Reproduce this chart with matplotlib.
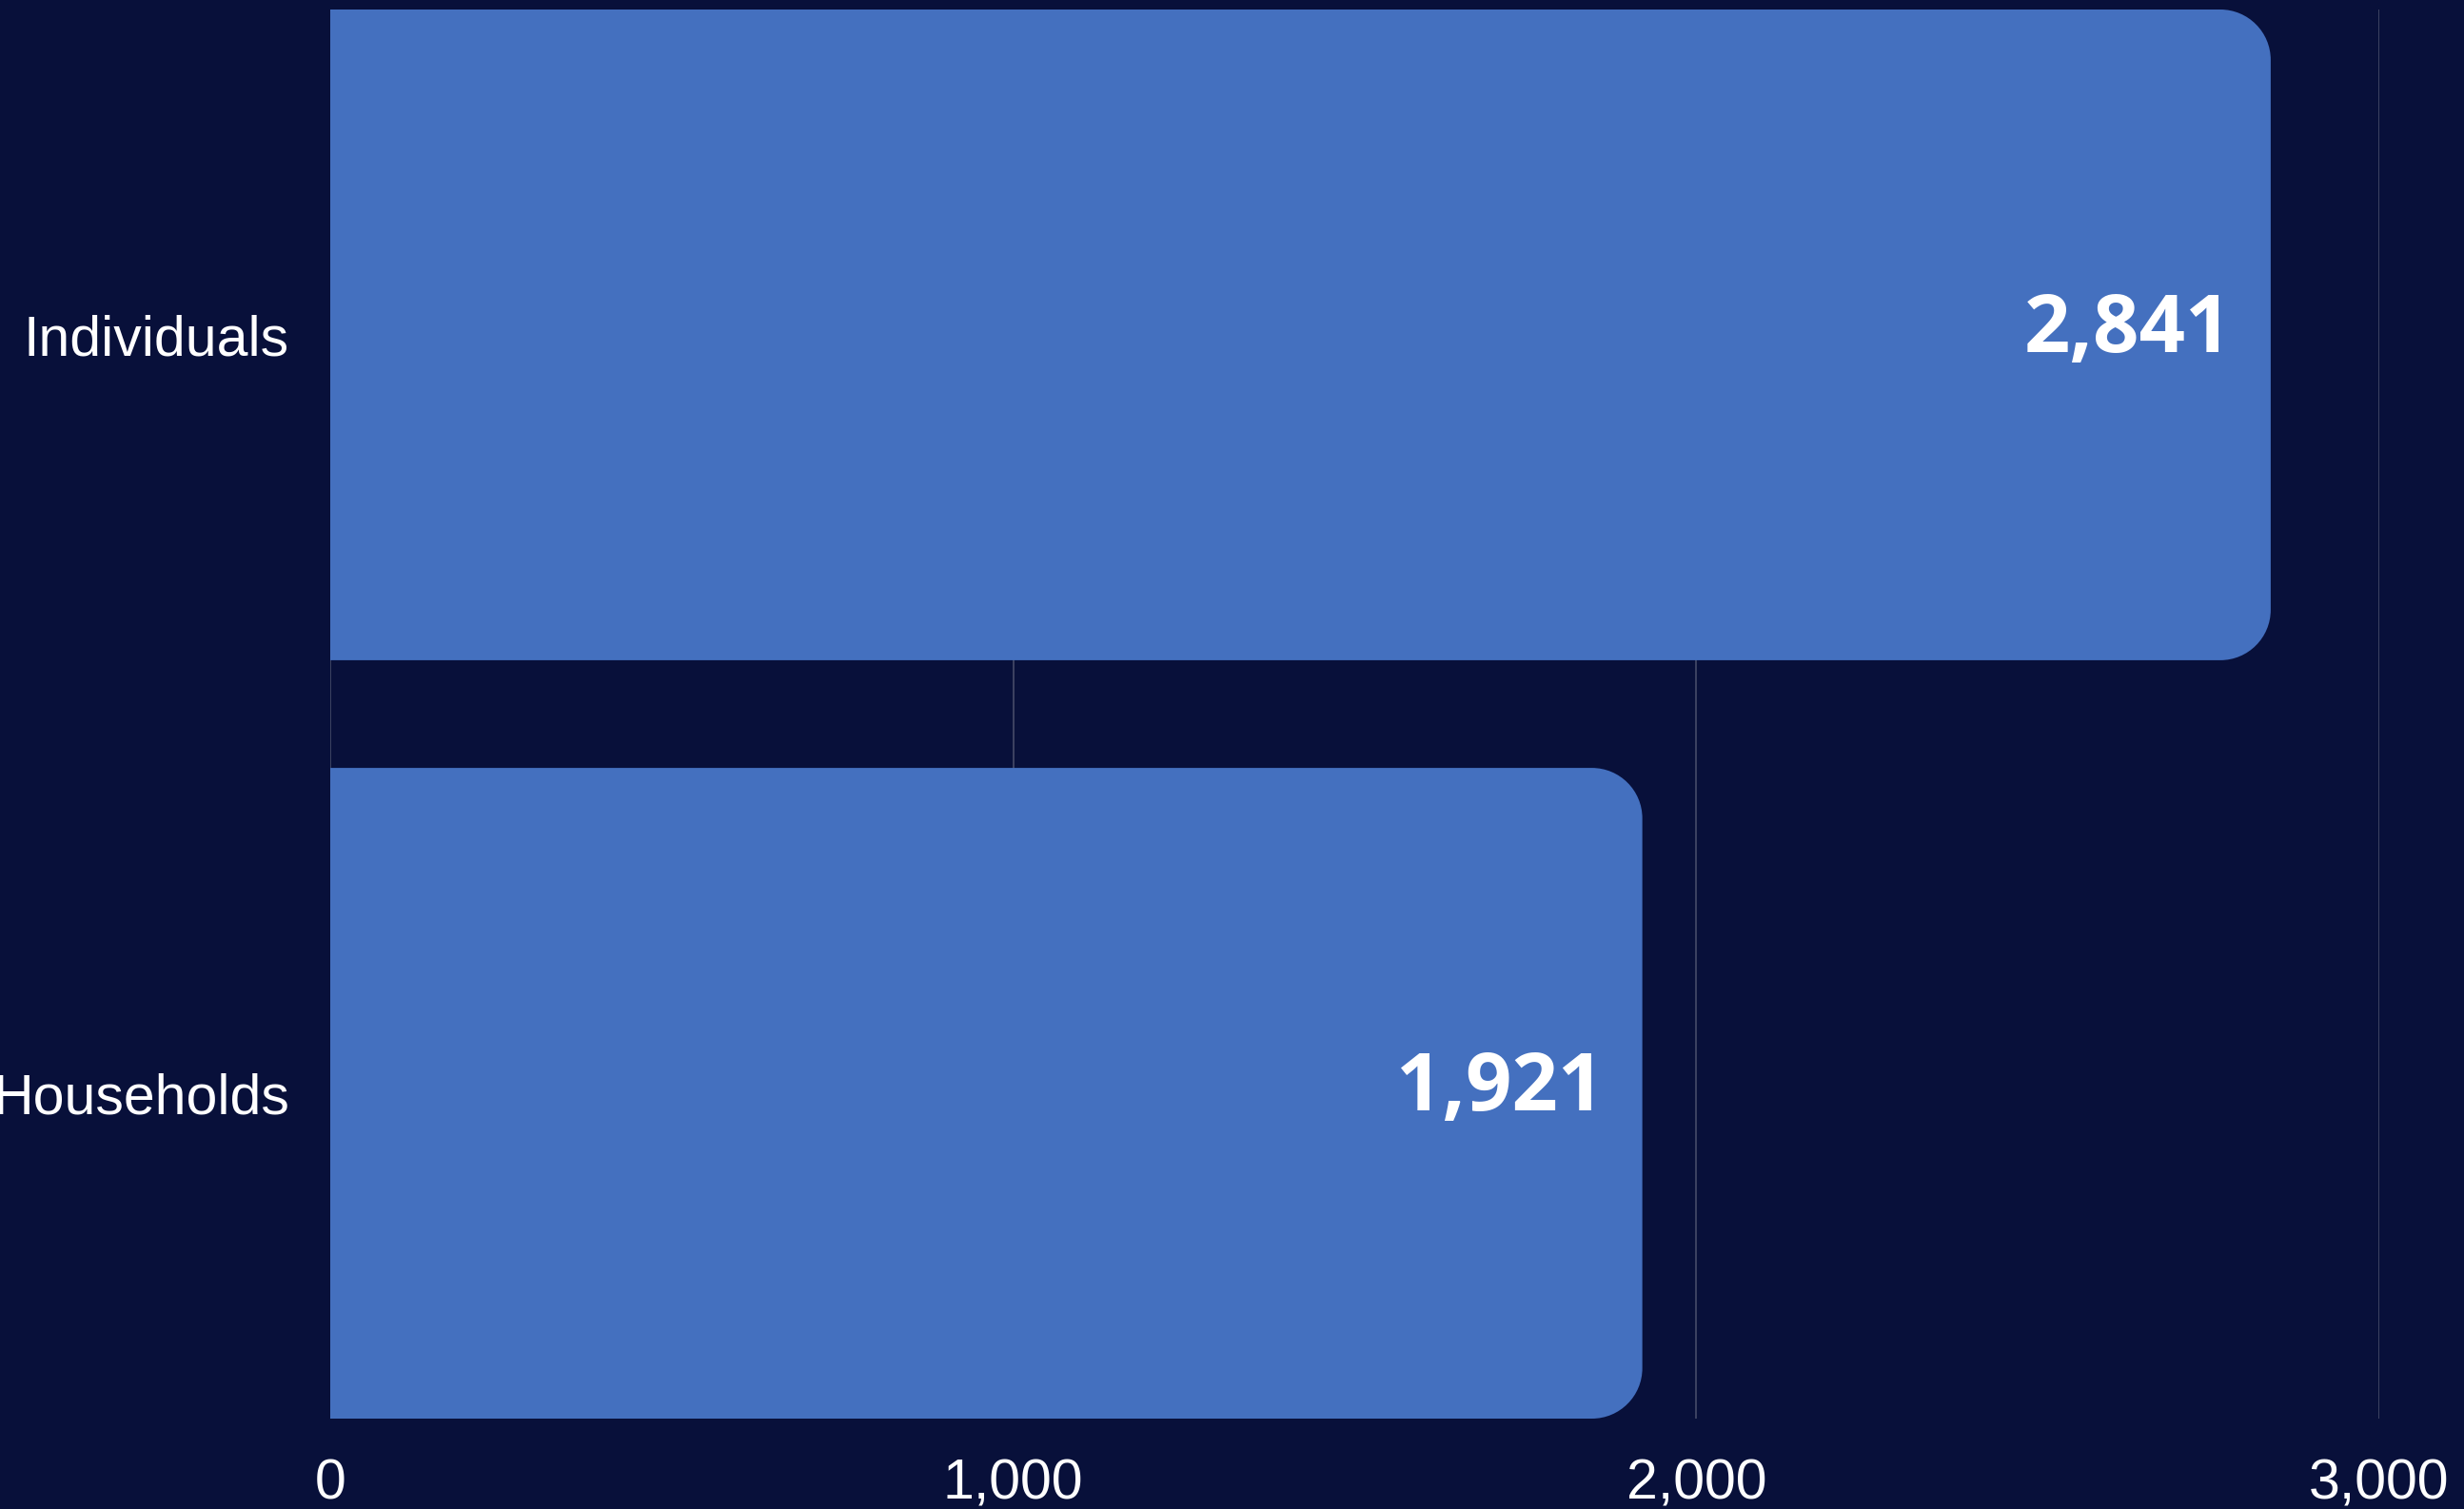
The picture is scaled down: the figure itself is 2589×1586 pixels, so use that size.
import numpy as np
import matplotlib
matplotlib.use("Agg")
import matplotlib.pyplot as plt
from matplotlib.path import Path
from matplotlib.patches import PathPatch

# data
categories = ["Individuals", "Households"]
values = [2841, 1921]
value_labels = ["2,841", "1,921"]
xticks = [0, 1000, 2000, 3000]
xtick_labels = ["0", "1,000", "2,000", "3,000"]

bg = "#08103a"
bar_color = "#4470bf"
grid_color = "#464c68"

W, H, dpi = 2589, 1586, 100
fig = plt.figure(figsize=(W / dpi, H / dpi), dpi=dpi, facecolor=bg)
ax = fig.add_axes([347 / W, 1 - 1491 / H, (2500 - 347) / W, (1491 - 10) / H])
ax.set_facecolor(bg)

h = 0.858  # bar thickness
ypos = np.arange(len(categories))
ax.set_xlim(0, 3000)
ax.set_ylim(len(categories) - 1 + h / 2, -h / 2)

# pixel -> data units for the corner radius
p0 = ax.transData.transform((0, 0))
p1 = ax.transData.transform((1, 1))
px_x = abs(p1[0] - p0[0])
px_y = abs(p1[1] - p0[1])
r = 53
rx, ry = r / px_x, r / px_y
k = 0.5523

for y, v in zip(ypos, values):
    top, bot = y - h / 2, y + h / 2
    verts = [
        (0, top), (v - rx, top),
        (v - rx + k * rx, top), (v, top + ry - k * ry), (v, top + ry),
        (v, bot - ry),
        (v, bot - ry + k * ry), (v - rx + k * rx, bot), (v - rx, bot),
        (0, bot), (0, top),
    ]
    codes = [Path.MOVETO, Path.LINETO,
             Path.CURVE4, Path.CURVE4, Path.CURVE4,
             Path.LINETO,
             Path.CURVE4, Path.CURVE4, Path.CURVE4,
             Path.LINETO, Path.CLOSEPOLY]
    ax.add_patch(PathPatch(Path(verts, codes), facecolor=bar_color,
                           edgecolor="none", zorder=3))

# value labels
for y, v, lab in zip(ypos, values, value_labels):
    ax.annotate(lab, xy=(v, y), xytext=(-29, 3), textcoords="offset points",
                ha="right", va="center", color="white", fontsize=61,
                fontweight="bold", family=["Open Sans", "DejaVu Sans"], zorder=4)

ax.set_xticks(xticks)
ax.set_xticklabels(xtick_labels)
ax.set_yticks(ypos)
ax.set_yticklabels(categories)
ax.tick_params(axis="both", length=0, colors="white", labelsize=42.5)
ax.tick_params(axis="x", pad=30)
ax.tick_params(axis="y", pad=31)
for t in ax.get_xticklabels() + ax.get_yticklabels():
    t.set_family(["Liberation Sans", "DejaVu Sans"])

ax.grid(axis="x", color=grid_color, linewidth=1.2, zorder=0)
ax.set_axisbelow(True)
for s in ax.spines.values():
    s.set_visible(False)

fig.savefig("out.png", dpi=dpi, facecolor=bg)
